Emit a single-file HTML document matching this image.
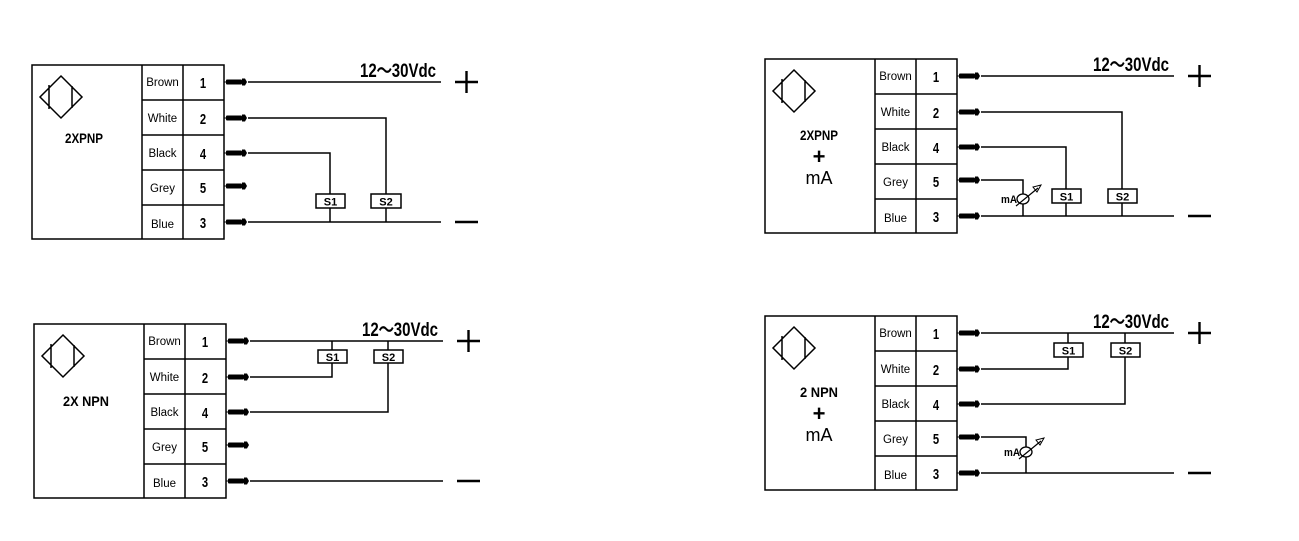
<!DOCTYPE html>
<html><head><meta charset="utf-8"><style>
html,body{margin:0;padding:0;background:#fff;}
svg{display:block;}
text{font-family:"Liberation Sans",sans-serif;fill:#000;}
.lb{font-size:11.5px;text-anchor:middle;}
.nm{font-size:15px;font-weight:bold;text-anchor:middle;}
.t{font-size:14px;font-weight:bold;text-anchor:middle;}
.s{font-size:11px;font-weight:bold;text-anchor:middle;}
</style></head><body>
<svg width="1299" height="541" viewBox="0 0 1299 541" xmlns="http://www.w3.org/2000/svg">
<defs>
<g id="base" fill="none" stroke="#000">
<rect x="32" y="65" width="192" height="174" stroke-width="1.5"/>
<path d="M142 65V239M183 65V239M142 100H224M142 135H224M142 170H224M142 205H224" stroke-width="1.5"/>
<path d="M61 76L82 97L61 118L40 97Z M49 85V109 M72 86V108" stroke-width="1.5"/>
<g fill="#000" stroke="none">
<rect x="226" y="79.5" width="16" height="5" rx="1"/><path d="M242 78.5h3l2 3.5l-2 3.5h-3z"/>
<rect x="226" y="115.5" width="16" height="5" rx="1"/><path d="M242 114.5h3l2 3.5l-2 3.5h-3z"/>
<rect x="226" y="150.5" width="16" height="5" rx="1"/><path d="M242 149.5h3l2 3.5l-2 3.5h-3z"/>
<rect x="226" y="183.5" width="16" height="5" rx="1"/><path d="M242 182.5h3l2 3.5l-2 3.5h-3z"/>
<rect x="226" y="219.5" width="16" height="5" rx="1"/><path d="M242 218.5h3l2 3.5l-2 3.5h-3z"/>
</g>
<path d="M224 82h3M224 118h3M224 153h3M224 186h3M224 222h3" stroke-width="1"/>
<path d="M248 82H441M248 222H441" stroke-width="1.5"/>
<path d="M455 82H478M466.5 71V93M455 222H478" stroke-width="2.4"/>
</g>
<g id="lbls">
<text class="lb" x="162.5" y="86">Brown</text>
<text class="lb" x="162.5" y="122">White</text>
<text class="lb" x="162.5" y="157">Black</text>
<text class="lb" x="162.5" y="192">Grey</text>
<text class="lb" x="162.5" y="228">Blue</text>
<text class="nm" x="203" y="88" transform="translate(203 0) scale(0.75 1) translate(-203 0)">1</text>
<text class="nm" x="203" y="124" transform="translate(203 0) scale(0.75 1) translate(-203 0)">2</text>
<text class="nm" x="203" y="159" transform="translate(203 0) scale(0.75 1) translate(-203 0)">4</text>
<text class="nm" x="203" y="193" transform="translate(203 0) scale(0.75 1) translate(-203 0)">5</text>
<text class="nm" x="203" y="228" transform="translate(203 0) scale(0.75 1) translate(-203 0)">3</text>
<text x="360" y="77" font-size="19" font-weight="bold" textLength="76" lengthAdjust="spacingAndGlyphs">12～30Vdc</text>
</g>
</defs>

<g>
<use href="#base"/><use href="#lbls"/>
<text class="t" x="84" y="143" textLength="38" lengthAdjust="spacingAndGlyphs">2XPNP</text>
<path d="M248 118H386V222M248 153H330V222" fill="none" stroke="#000" stroke-width="1.5"/>
<rect x="316" y="194" width="29" height="14" fill="#fff" stroke="#000" stroke-width="1.5"/>
<rect x="371" y="194" width="30" height="14" fill="#fff" stroke="#000" stroke-width="1.5"/>
<text class="s" x="330.5" y="205.5">S1</text><text class="s" x="386" y="205.5">S2</text>
</g>

<g transform="translate(2 259)">
<use href="#base"/><use href="#lbls"/>
<text class="t" x="84" y="147" textLength="46" lengthAdjust="spacingAndGlyphs">2X NPN</text>
<path d="M330 82V118H248M386 82V153H248" fill="none" stroke="#000" stroke-width="1.5"/>
<rect x="316" y="91" width="29" height="13" fill="#fff" stroke="#000" stroke-width="1.5"/>
<rect x="372" y="91" width="29" height="13" fill="#fff" stroke="#000" stroke-width="1.5"/>
<text class="s" x="330.5" y="102">S1</text><text class="s" x="386.5" y="102">S2</text>
</g>

<g transform="translate(733 -6)">
<use href="#base"/><use href="#lbls"/>
<text class="t" x="86" y="146" textLength="38" lengthAdjust="spacingAndGlyphs">2XPNP</text>
<text x="86" y="170" font-size="22" font-weight="bold" text-anchor="middle">+</text>
<text x="86" y="190" font-size="18" text-anchor="middle">mA</text>
<path d="M248 118H389V222M248 153H333V222M248 186H290V200M290 210V222" fill="none" stroke="#000" stroke-width="1.5"/>
<rect x="319" y="195" width="29" height="14" fill="#fff" stroke="#000" stroke-width="1.5"/>
<rect x="375" y="195" width="29" height="14" fill="#fff" stroke="#000" stroke-width="1.5"/>
<text class="s" x="333.5" y="206.5">S1</text><text class="s" x="389.5" y="206.5">S2</text>
<ellipse cx="290" cy="205" rx="6" ry="5" fill="#fff" stroke="#000" stroke-width="1.3"/>
<path d="M283 212L305 194" stroke="#000" stroke-width="1.2"/><path d="M308 191L300 193L304 198Z" fill="none" stroke="#000" stroke-width="1"/>
<text x="276" y="209" font-size="11" font-weight="bold" text-anchor="middle" textLength="16" lengthAdjust="spacingAndGlyphs">mA</text>
</g>

<g transform="translate(733 251)">
<use href="#base"/><use href="#lbls"/>
<text class="t" x="86" y="146" textLength="38" lengthAdjust="spacingAndGlyphs">2 NPN</text>
<text x="86" y="170" font-size="22" font-weight="bold" text-anchor="middle">+</text>
<text x="86" y="190" font-size="18" text-anchor="middle">mA</text>
<path d="M335 82V118H248M392 82V153H248M248 186H293V196M293 206V222" fill="none" stroke="#000" stroke-width="1.5"/>
<rect x="321" y="92" width="29" height="14" fill="#fff" stroke="#000" stroke-width="1.5"/>
<rect x="378" y="92" width="29" height="14" fill="#fff" stroke="#000" stroke-width="1.5"/>
<text class="s" x="335.5" y="103.5">S1</text><text class="s" x="392.5" y="103.5">S2</text>
<ellipse cx="293" cy="201" rx="6" ry="5" fill="#fff" stroke="#000" stroke-width="1.3"/>
<path d="M286 208L308 190" stroke="#000" stroke-width="1.2"/><path d="M311 187L303 189L307 194Z" fill="none" stroke="#000" stroke-width="1"/>
<text x="279" y="205" font-size="11" font-weight="bold" text-anchor="middle" textLength="16" lengthAdjust="spacingAndGlyphs">mA</text>
</g>
</svg>
</body></html>
